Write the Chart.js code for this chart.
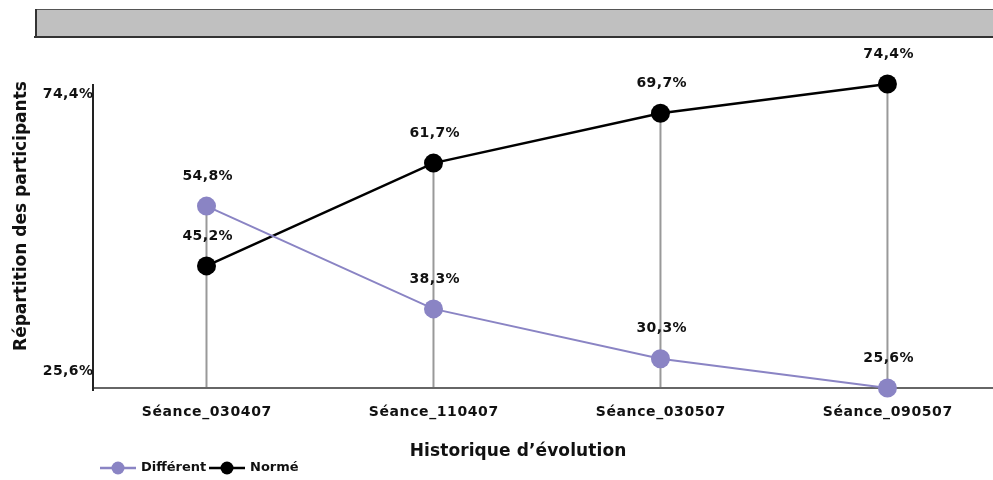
<!DOCTYPE html>
<html>
<head>
<meta charset="utf-8">
<script src="https://cdn.jsdelivr.net/npm/chart.js@4/dist/chart.umd.min.js"></script>
<style>
  html, body { margin: 0; padding: 0; background: #fff; overflow: hidden; }
  #wrap { position: relative; width: 993px; height: 480px; }
</style>
</head>
<body>
<div id="wrap"><canvas id="c" width="993" height="480"></canvas></div>
<script>
const seances = ['Séance_030407', 'Séance_110407', 'Séance_030507', 'Séance_090507']
const different = [54.8, 38.3, 30.3, 25.6]
const norme = [45.2, 61.7, 69.7, 74.4]
const yTicks = [25.6, 74.4]

const PURPLE = '#8a84c4'
const FONT = '"DejaVu Sans", Verdana, sans-serif'
const fmt = v => v.toFixed(1).replace('.', ',') + '%'

// text with letter spacing, aligned without the trailing gap
function spaced(ctx, text, x, y, sp, align) {
  ctx.letterSpacing = sp + 'px'
  const w = ctx.measureText(text).width - sp
  ctx.textAlign = 'left'
  let sx = x
  if (align === 'center') sx = x - w / 2
  else if (align === 'right') sx = x - w
  ctx.fillText(text, sx, y)
  ctx.letterSpacing = '0px'
}

const decorPlugin = {
  id: 'decor',
  beforeDraw(chart) {
    const ctx = chart.ctx
    ctx.save()
    // grey banner at the top
    ctx.fillStyle = '#c0c0c0'
    ctx.fillRect(35, 9, 960, 28)
    ctx.fillStyle = '#555'
    ctx.fillRect(35, 9, 960, 1)
    ctx.fillStyle = '#333'
    ctx.fillRect(35, 9, 2, 28)
    ctx.fillRect(34, 36, 960, 2)
    ctx.restore()
  },
  beforeDatasetsDraw(chart) {
    const ctx = chart.ctx
    const { scales, chartArea } = chart
    ctx.save()
    // drop lines from the higher point down to the axis
    ctx.strokeStyle = '#999'
    ctx.lineWidth = 2
    seances.forEach((s, i) => {
      const x = scales.x.getPixelForValue(i)
      const top = Math.max(different[i], norme[i])
      ctx.beginPath()
      ctx.moveTo(x, scales.y.getPixelForValue(top))
      ctx.lineTo(x, chartArea.bottom)
      ctx.stroke()
    })
    // axes
    ctx.strokeStyle = '#666'
    ctx.lineWidth = 2
    ctx.beginPath()
    ctx.moveTo(chartArea.left, chartArea.bottom)
    ctx.lineTo(chartArea.right, chartArea.bottom)
    ctx.stroke()
    ctx.strokeStyle = '#222'
    ctx.beginPath()
    ctx.moveTo(chartArea.left, chartArea.top)
    ctx.lineTo(chartArea.left, chartArea.bottom + 3)
    ctx.stroke()
    ctx.restore()
  },
  afterDraw(chart) {
    const ctx = chart.ctx
    const { scales, chartArea } = chart
    ctx.save()
    ctx.fillStyle = '#111'
    ctx.textBaseline = 'middle'

    // value labels
    ctx.font = 'bold 14px ' + FONT
    chart.data.datasets.forEach(ds => {
      ds.data.forEach(p => {
        const x = scales.x.getPixelForValue(p.x)
        const y = scales.y.getPixelForValue(p.y)
        spaced(ctx, fmt(p.y), x + 1, y - 30, 0.4, 'center')
      })
    })

    // y tick labels (kept inside the axis span)
    spaced(ctx, fmt(yTicks[1]), chartArea.left, scales.y.getPixelForValue(yTicks[1]) + 10, 0.4, 'right')
    spaced(ctx, fmt(yTicks[0]), chartArea.left, scales.y.getPixelForValue(yTicks[0]) - 17, 0.4, 'right')

    // x tick labels
    seances.forEach((s, i) => {
      spaced(ctx, s, scales.x.getPixelForValue(i), chartArea.bottom + 24, 0.6, 'center')
    })

    // axis titles
    ctx.font = 'bold 17px ' + FONT
    spaced(ctx, 'Historique d\u2019évolution', 518, 452, 0.1, 'center')
    ctx.save()
    ctx.translate(22, 216)
    ctx.rotate(-Math.PI / 2)
    spaced(ctx, 'Répartition des participants', 0, 0, 0, 'center')
    ctx.restore()

    // legend
    const items = [
      { label: 'Différent', color: PURPLE, x: 100 },
      { label: 'Normé', color: '#000', x: 209 }
    ]
    ctx.font = 'bold 13px ' + FONT
    items.forEach(it => {
      const ly = 468
      ctx.strokeStyle = it.color
      ctx.lineWidth = 2.5
      ctx.beginPath()
      ctx.moveTo(it.x, ly)
      ctx.lineTo(it.x + 36, ly)
      ctx.stroke()
      ctx.fillStyle = it.color
      ctx.beginPath()
      ctx.arc(it.x + 18, ly, 6.5, 0, Math.PI * 2)
      ctx.fill()
      ctx.fillStyle = '#111'
      spaced(ctx, it.label, it.x + 41, ly, 0, 'left')
    })
    ctx.restore()
  }
}

new Chart(document.getElementById('c'), {
  type: 'line',
  plugins: [decorPlugin],
  data: {
    datasets: [
      {
        label: 'Différent',
        data: different.map((v, i) => ({ x: i, y: v })),
        borderColor: PURPLE,
        backgroundColor: PURPLE,
        borderWidth: 2,
        pointRadius: 9.5,
        pointBorderWidth: 0,
        pointBackgroundColor: PURPLE,
        tension: 0,
        clip: false
      },
      {
        label: 'Normé',
        data: norme.map((v, i) => ({ x: i, y: v })),
        borderColor: '#000',
        backgroundColor: '#000',
        borderWidth: 2.5,
        pointRadius: 9.5,
        pointBorderWidth: 0,
        pointBackgroundColor: '#000',
        tension: 0,
        clip: false
      }
    ]
  },
  options: {
    responsive: false,
    animation: false,
    layout: { autoPadding: false, padding: { top: 84, right: 0, left: 0, bottom: 0 } },
    scales: {
      x: {
        type: 'linear',
        min: -0.5,
        max: 3.465,
        grid: { display: false, drawTicks: false },
        border: { display: false },
        ticks: { display: false },
        afterFit(scale) { scale.height = 92 }
      },
      y: {
        min: 25.6,
        max: 74.4,
        grid: { display: false, drawTicks: false },
        border: { display: false },
        ticks: { display: false },
        afterFit(scale) { scale.width = 93 }
      }
    },
    plugins: {
      legend: { display: false },
      tooltip: { enabled: false }
    }
  }
})
</script>
</body>
</html>
